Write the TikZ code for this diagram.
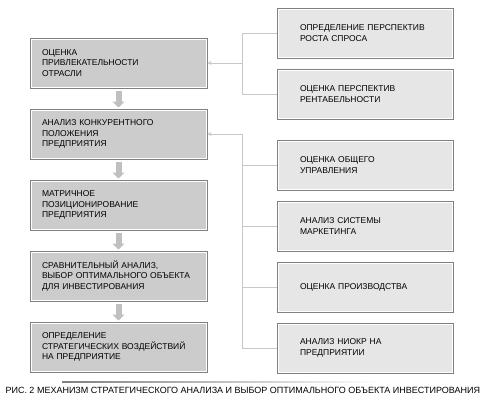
\documentclass[tikz,border=0pt]{standalone}
\usepackage{fontspec}
\setmainfont{Liberation Sans}
\usepackage{tikz}
\usetikzlibrary{arrows.meta,positioning,calc}
\definecolor{boxgray}{HTML}{CCCCCC}
\definecolor{sidegray}{HTML}{E6E6E6}
\definecolor{edgegray}{HTML}{808080}
\definecolor{linkgray}{HTML}{C8C8C8}
\definecolor{fatgray}{HTML}{C0C0C0}

\begin{document}
\begin{tikzpicture}[
    x=1pt, y=-1pt,
    font=\fontsize{8.5}{10.5}\selectfont,
    box/.style={draw=edgegray, line width=1pt, align=left, inner ysep=0pt,
        minimum height=50pt,
        path picture={\draw[white, line width=3pt]
            (path picture bounding box.south west) rectangle
            (path picture bounding box.north east);}},
    stage/.style={box, fill=boxgray, text width=153pt, inner xsep=12pt},
    factor/.style={box, fill=sidegray, text width=130pt, inner xsep=23pt},
    fat/.style={fatgray, line width=6pt, -{Triangle[width=12pt,length=6pt]},
        shorten <=2pt, shorten >=1pt},
    link/.style={linkgray, line width=0.8pt},
    larr/.style={link, -{Stealth[length=4pt,width=4pt]}}
]
\useasboundingbox (0,0) rectangle (490,400);

% main chain
\node[stage] (m1) at (118.5,63) {ОЦЕНКА\\ПРИВЛЕКАТЕЛЬНОСТИ\\ОТРАСЛИ};
\node[stage, below=20pt of m1] (m2) {АНАЛИЗ КОНКУРЕНТНОГО\\ПОЛОЖЕНИЯ\\ПРЕДПРИЯТИЯ};
\node[stage, below=20pt of m2] (m3) {МАТРИЧНОЕ\\ПОЗИЦИОНИРОВАНИЕ\\ПРЕДПРИЯТИЯ};
\node[stage, below=20pt of m3] (m4) {СРАВНИТЕЛЬНЫЙ АНАЛИЗ,\\ВЫБОР ОПТИМАЛЬНОГО ОБЪЕКТА\\ДЛЯ ИНВЕСТИРОВАНИЯ};
\node[stage, below=20pt of m4] (m5) {ОПРЕДЕЛЕНИЕ\\СТРАТЕГИЧЕСКИХ ВОЗДЕЙСТВИЙ\\НА ПРЕДПРИЯТИЕ};
\draw[fat] (m1) -- (m2);
\draw[fat] (m2) -- (m3);
\draw[fat] (m3) -- (m4);
\draw[fat] (m4) -- (m5);

% factors
\node[factor] (r1) at (365,33) {ОПРЕДЕЛЕНИЕ ПЕРСПЕКТИВ\\РОСТА СПРОСА};
\node[factor, below=10pt of r1] (r2) {ОЦЕНКА ПЕРСПЕКТИВ\\РЕНТАБЕЛЬНОСТИ};
\node[factor, below=20pt of r2] (r3) {ОЦЕНКА ОБЩЕГО\\УПРАВЛЕНИЯ};
\node[factor, below=10pt of r3] (r4) {АНАЛИЗ СИСТЕМЫ\\МАРКЕТИНГА};
\node[factor, below=10pt of r4] (r5) {ОЦЕНКА ПРОИЗВОДСТВА};
\node[factor, below=10pt of r5] (r6) {АНАЛИЗ НИОКР НА\\ПРЕДПРИЯТИИ};

\coordinate (j1) at ([xshift=35pt]m1.east);
\draw[link] (r1.west) -| (j1) |- (r2.west);
\draw[larr] (j1) -- (m1.east);

\coordinate (j2) at ([xshift=35pt]m2.east);
\draw[link] (j2) |- (r6.west);
\draw[link] (r3.west) -- (r3.west -| j2);
\draw[link] (r4.west) -- (r4.west -| j2);
\draw[link] (r5.west) -- (r5.west -| j2);
\draw[larr] (j2) -- (m2.east);

% caption
\coordinate (rule) at (62,381.5);
\shade[left color=edgegray, right color=white] (rule) rectangle ++(318,1.2);
\node[font=\fontsize{9}{10}\selectfont, anchor=west] (cap) at (2,390)
    {РИС. 2 МЕХАНИЗМ СТРАТЕГИЧЕСКОГО АНАЛИЗА И ВЫБОР ОПТИМАЛЬНОГО ОБЪЕКТА ИНВЕСТИРОВАНИЯ};
\end{tikzpicture}
\end{document}
